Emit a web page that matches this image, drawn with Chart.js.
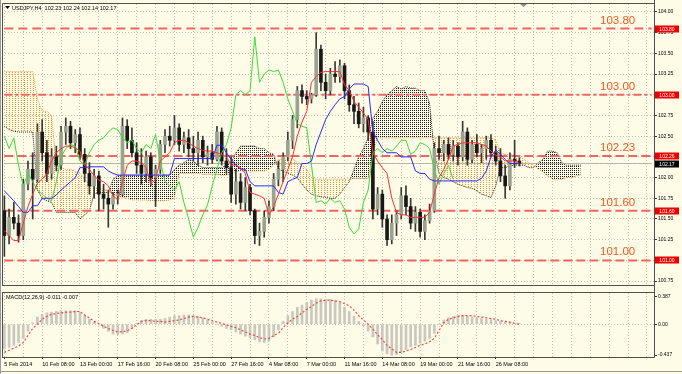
<!DOCTYPE html>
<html>
<head>
<meta charset="utf-8">
<script src="https://cdn.jsdelivr.net/npm/chart.js@4.4.1/dist/chart.umd.min.js"></script>
<style>
  html, body { margin: 0; padding: 0; background: #fefce6; }
  #wrap { position: relative; width: 682px; height: 374px; overflow: hidden; }
  #mainCanvas { position: absolute; left: 0; top: 0; }
  #macdCanvas { position: absolute; left: 0; top: 289px; }
</style>
</head>
<body>
<div id="wrap">
  <canvas id="mainCanvas" width="682" height="289"></canvas>
  <canvas id="macdCanvas" width="682" height="85"></canvas>
</div>
<script>
// USDJPY H4, one category = 2 bars
const cats = Array.from({ length: 138 }, (_, i) => String(i));

const timeLabels = ["5 Feb 2014", "10 Feb 08:00", "13 Feb 00:00", "17 Feb 16:00", "20 Feb 08:00",
	"25 Feb 00:00", "27 Feb 16:00", "4 Mar 08:00", "7 Mar 00:00", "11 Mar 16:00",
	"14 Mar 08:00", "19 Mar 00:00", "21 Mar 16:00", "26 Mar 08:00"];

const priceTicks = [104.00, 103.75, 103.50, 103.25, 103.00, 102.75, 102.50, 102.25, 102.00, 101.75, 101.50, 101.25, 101.00, 100.75];
const macdTicks = [0.387, 0, -0.437];
const macdTickText = ["0.387", "0.00", "-0.437"];

const opens = [
	101.60, 101.30, 101.52, 101.45, 101.30, 101.92, 102.10, 101.98, 102.55, 102.30,
	102.05, 102.25, 102.15, 102.55, 102.62, 102.42, 102.52, 102.28, 102.05, 101.90,
	102.02, 101.80, 101.75, 101.68, 101.78, 101.80, 102.62, 102.45, 102.30, 102.15,
	102.05, 102.25, 102.00, 102.10, 102.40, 102.50, 102.45, 102.60, 102.40, 102.48,
	102.35, 102.30, 102.45, 102.25, 102.30, 102.22, 102.55, 102.20, 102.12, 101.80,
	101.95, 101.70, 101.88, 101.60, 101.30, 101.35, 101.52, 101.65, 101.98, 102.10,
	102.25, 102.45, 102.70, 103.05, 102.98, 102.95, 103.00, 103.55, 103.15, 103.05,
	103.25, 103.22, 103.35, 103.05, 102.88, 102.80, 102.65, 102.72, 102.55, 101.62,
	101.80, 101.50, 101.25, 101.45, 101.55, 101.78, 101.65, 101.45, 101.58, 101.35,
	101.48, 101.60, 102.35, 102.30, 102.40, 102.28, 102.38, 102.25, 102.55, 102.22,
	102.40, 102.30, 102.35, 102.45, 102.30, 102.20, 102.02, 101.90, 102.22, 102.20,
];
const highs = [
	101.78, 101.62, 101.70, 101.55, 101.98, 102.20, 102.30, 102.65, 102.70, 102.45,
	102.35, 102.38, 102.62, 102.72, 102.68, 102.58, 102.60, 102.35, 102.18, 102.10,
	102.08, 101.92, 101.85, 101.82, 101.85, 102.72, 102.70, 102.60, 102.42, 102.35,
	102.32, 102.30, 102.15, 102.45, 102.58, 102.62, 102.75, 102.65, 102.55, 102.58,
	102.50, 102.55, 102.50, 102.38, 102.40, 102.62, 102.60, 102.35, 102.25, 102.10,
	102.05, 102.00, 101.92, 101.62, 101.45, 101.60, 101.72, 102.05, 102.20, 102.30,
	102.55, 102.75, 103.10, 103.12, 103.05, 103.02, 103.75, 103.60, 103.25, 103.32,
	103.40, 103.42, 103.38, 103.12, 102.98, 102.90, 102.85, 102.75, 102.68, 101.88,
	101.85, 101.55, 101.55, 101.60, 101.88, 101.90, 101.75, 101.65, 101.62, 101.55,
	101.68, 102.42, 102.50, 102.45, 102.48, 102.45, 102.42, 102.68, 102.60, 102.45,
	102.52, 102.40, 102.50, 102.52, 102.38, 102.35, 102.15, 102.30, 102.45, 102.24,
];
const lows = [
	101.05, 101.20, 101.38, 101.22, 101.25, 101.85, 101.50, 101.95, 102.20, 101.95,
	101.98, 102.08, 102.10, 102.40, 102.35, 102.30, 102.22, 101.95, 101.80, 101.75,
	101.60, 101.62, 101.40, 101.62, 101.68, 101.78, 102.35, 102.25, 102.05, 101.92,
	101.95, 101.90, 101.65, 102.05, 102.30, 102.38, 102.40, 102.32, 102.30, 102.25,
	102.20, 102.15, 102.18, 102.15, 102.17, 102.20, 102.15, 102.05, 101.70, 101.68,
	101.62, 101.60, 101.55, 101.20, 101.18, 101.28, 101.45, 101.60, 101.90, 101.95,
	102.20, 102.35, 102.60, 102.90, 102.88, 102.90, 102.98, 103.05, 102.95, 103.00,
	103.15, 103.15, 102.95, 102.80, 102.65, 102.60, 102.55, 102.45, 101.50, 101.55,
	101.40, 101.18, 101.20, 101.30, 101.50, 101.55, 101.38, 101.35, 101.28, 101.25,
	101.45, 101.58, 102.22, 102.20, 102.22, 102.20, 102.15, 102.20, 102.15, 102.18,
	102.25, 102.18, 102.22, 102.25, 102.15, 101.95, 101.75, 101.85, 102.12, 102.14,
];
const closes = [
	101.30, 101.52, 101.45, 101.30, 101.92, 102.10, 101.98, 102.55, 102.30, 102.05,
	102.25, 102.15, 102.55, 102.62, 102.42, 102.52, 102.28, 102.05, 101.90, 102.02,
	101.80, 101.75, 101.68, 101.78, 101.80, 102.62, 102.45, 102.30, 102.15, 102.05,
	102.25, 102.00, 102.10, 102.40, 102.50, 102.45, 102.60, 102.40, 102.48, 102.35,
	102.30, 102.45, 102.25, 102.30, 102.22, 102.55, 102.20, 102.12, 101.80, 101.95,
	101.70, 101.88, 101.60, 101.30, 101.35, 101.52, 101.65, 101.98, 102.10, 102.25,
	102.45, 102.70, 103.05, 102.98, 102.95, 103.00, 103.55, 103.15, 103.05, 103.25,
	103.22, 103.35, 103.05, 102.88, 102.80, 102.65, 102.72, 102.55, 101.62, 101.80,
	101.50, 101.25, 101.45, 101.55, 101.78, 101.65, 101.45, 101.58, 101.35, 101.48,
	101.60, 102.35, 102.30, 102.40, 102.28, 102.38, 102.25, 102.55, 102.22, 102.40,
	102.30, 102.35, 102.45, 102.30, 102.20, 102.02, 101.90, 102.22, 102.20, 102.17,
];

const tenkan = [
	101.36, 101.30, 101.24, 101.24, 101.45, 101.65, 101.80, 101.93, 101.98, 102.05,
	102.20, 102.30, 102.35, 102.38, 102.38, 102.36, 102.32, 102.15, 102.10, 102.02,
	101.97, 101.95, 101.90, 101.78, 101.73, 101.95, 102.15, 102.20, 102.20, 102.18,
	102.12, 101.92, 101.98, 102.20, 102.25, 102.30, 102.42, 102.45, 102.45, 102.42,
	102.38, 102.35, 102.33, 102.32, 102.32, 102.30, 102.28, 102.25, 102.15, 102.15,
	102.12, 102.05, 101.82, 101.80, 101.78, 101.75, 101.55, 101.65, 101.80, 101.95,
	102.10, 102.25, 102.50, 102.67, 102.80, 103.15, 103.22, 103.27, 103.28, 103.28,
	103.28, 103.28, 103.12, 103.05, 102.92, 102.85, 102.78, 102.70, 102.30, 102.20,
	102.12, 102.05, 101.75, 101.58, 101.55, 101.55, 101.52, 101.52, 101.52, 101.52,
	101.58, 101.80, 102.00, 102.10, 102.22, 102.38, 102.40, 102.42, 102.42, 102.42,
	102.42, 102.40, 102.38, 102.32, 102.27, 102.25, 102.20, 102.20, 102.20, 102.18,
];
const kijun = [
	101.84, 101.78, 101.72, 101.65, 101.58, 101.58, 101.66, 101.66, 101.75, 101.75,
	101.75, 101.79, 101.85, 101.90, 101.95, 102.00, 102.12, 102.12, 102.13, 102.13,
	102.13, 102.13, 102.08, 102.05, 102.03, 102.03, 102.03, 102.03, 102.03, 102.03,
	102.03, 102.03, 102.03, 102.03, 102.03, 102.03, 102.23, 102.23, 102.23, 102.23,
	102.23, 102.23, 102.23, 102.23, 102.23, 102.39, 102.39, 102.30, 102.22, 102.15,
	102.10, 102.10, 101.95, 101.90, 101.90, 101.90, 101.90, 101.90, 101.82, 101.80,
	101.95, 101.98, 102.00, 102.17, 102.17, 102.20, 102.40, 102.55, 102.70, 102.80,
	102.88, 102.95, 102.98, 103.07, 103.13, 103.13, 103.13, 103.10, 102.55, 102.45,
	102.35, 102.30, 102.30, 102.30, 102.25, 102.25, 102.25, 102.08, 102.05, 102.05,
	101.98, 101.96, 101.96, 101.96, 101.96, 101.96, 101.96, 101.96, 101.96, 101.96,
	101.96, 101.99, 102.08, 102.25, 102.33, 102.28, 102.22, 102.17, 102.17, 102.17,
];
const chikou = [
	102.50, 102.35, 102.48, 102.15, 101.90, 102.05, 101.95, 101.85, 101.80, 101.75,
	101.72, 101.95, 102.25, 102.35, 102.40, 102.38, 102.20, 102.15, 102.30, 102.40,
	102.45, 102.48, 102.55, 102.60, 102.58, 102.48, 102.42, 102.45, 102.35, 102.30,
	102.40, 102.35, 102.52, 102.20, 101.95, 101.90, 101.85, 101.95, 101.70, 101.50,
	101.28, 101.40, 101.55, 101.67, 101.90, 102.10, 102.30, 102.40, 102.60, 103.00,
	103.05, 103.00, 103.05, 103.70, 103.15, 103.25, 103.30, 103.28, 103.30, 103.15,
	102.95, 102.80, 102.65, 102.62, 102.60, 102.15, 101.70, 101.72, 101.68, 101.75,
	101.70, 101.72, 101.62, 101.40, 101.32, 101.38, 101.70, 101.85, 102.30, 102.35,
	102.30, 102.35, 102.32, 102.38, 102.45, 102.45, 102.28, 102.32, 102.42, 102.40,
	102.35, 102.10, 101.92, 102.05, 102.15, 101.98,
];
const spanA = [
	103.28, 103.28, 103.28, 103.28, 103.28, 103.28, 103.28, 102.95, 102.80, 102.80,
	102.75, 102.15, 102.12, 102.10, 102.10, 102.08, 102.05, 101.98, 101.92, 101.88,
	101.87, 101.86, 101.84, 101.80, 101.78, 101.76, 101.75, 101.73, 101.73, 101.73,
	101.73, 101.72, 101.72, 101.72, 101.72, 101.73, 101.75, 102.05, 102.05, 102.05,
	102.05, 102.05, 102.04, 102.04, 102.04, 102.04, 102.03, 102.03, 102.05, 102.07,
	102.08, 102.08, 102.08, 102.08, 102.08, 102.08, 102.10, 102.15, 102.22, 102.22,
	102.23, 102.23, 102.18, 102.15, 102.10, 102.00, 101.98, 101.98, 101.98, 101.98,
	101.98, 101.98, 101.98, 101.98, 101.99, 101.99, 101.99, 101.99, 102.30, 102.48,
	102.48, 102.48, 102.48, 102.48, 102.48, 102.48, 102.48, 102.48, 102.48, 102.48,
	102.48, 102.48, 102.48, 102.48, 102.48, 102.48, 102.48, 102.48, 102.48, 102.48,
	102.48, 102.48, 102.48, 102.48, 102.45, 102.30, 102.28, 102.28, 102.27, 102.25,
	102.22, 102.18, 102.15, 102.10, 102.07, 102.02, 101.98, 101.97, 101.98, 102.00,
	102.00, 102.02, 102.03,
];
const spanB = [
	102.62, 102.58, 102.56, 102.55, 102.55, 102.55, 102.55, 101.85, 101.75, 101.72,
	101.70, 101.58, 101.58, 101.58, 101.58, 101.58, 101.50, 101.55, 101.60, 101.80,
	101.82, 101.82, 101.82, 101.98, 102.02, 102.03, 102.03, 102.03, 102.03, 102.03,
	102.03, 102.03, 102.03, 102.03, 102.03, 102.03, 102.10, 102.15, 102.18, 102.22,
	102.20, 102.15, 102.12, 102.12, 102.12, 102.12, 102.12, 102.15, 102.18, 102.30,
	102.38, 102.38, 102.38, 102.38, 102.35, 102.35, 102.30, 102.28, 102.10, 102.08,
	102.05, 102.03, 102.00, 101.92, 101.85, 101.80, 101.78, 101.77, 101.76, 101.75,
	101.75, 101.80, 101.88, 101.95, 102.10, 102.25, 102.35, 102.48, 102.72, 102.80,
	102.92, 103.00, 103.05, 103.10, 103.07, 103.10, 103.08, 103.08, 103.05, 103.05,
	102.90, 102.30, 102.05, 102.00, 101.98, 101.95, 101.92, 101.90, 101.88, 101.87,
	101.84, 101.80, 101.78, 101.76, 101.90, 102.12, 102.12, 102.14, 102.15, 102.15,
	102.15, 102.12, 102.12, 102.18, 102.22, 102.32, 102.32, 102.30, 102.18, 102.15,
	102.15, 102.15, 102.15,
];

const levelValues = [103.80, 103.00, 102.26, 101.60, 101.00];
const levelTexts = ["103.80", "103.00", "102.23", "101.60", "101.00"];
const levelBoxTexts = ["103.80", "103.00", "102.26", "101.60", "101.00"];
const bidPrice = 102.17;

const macdMain = [
	-0.35, -0.33, -0.30, -0.26, -0.20, -0.10, 0.02, 0.10, 0.14, 0.16,
	0.17, 0.18, 0.19, 0.19, 0.19, 0.19, 0.17, 0.12, 0.07, 0.03,
	-0.01, -0.06, -0.10, -0.14, -0.15, -0.14, -0.12, -0.06, 0.01, 0.05,
	0.07, 0.07, 0.07, 0.07, 0.08, 0.10, 0.12, 0.12, 0.13, 0.13,
	0.12, 0.11, 0.09, 0.06, 0.03, 0.00, -0.03, -0.06, -0.08, -0.11,
	-0.14, -0.17, -0.19, -0.22, -0.25, -0.26, -0.24, -0.18, -0.08, 0.04,
	0.12, 0.18, 0.24, 0.27, 0.31, 0.34, 0.36, 0.36, 0.35, 0.35,
	0.34, 0.31, 0.24, 0.18, 0.11, 0.04, -0.02, -0.10, -0.18, -0.28,
	-0.38, -0.42, -0.44, -0.43, -0.40, -0.36, -0.32, -0.30, -0.27, -0.24,
	-0.20, -0.13, 0.00, 0.06, 0.09, 0.11, 0.12, 0.12, 0.11, 0.10,
	0.09, 0.08, 0.07, 0.06, 0.05, 0.04, 0.03, 0.02, 0.01, 0.01,
];
const macdSignal = [
	-0.40, -0.37, -0.34, -0.31, -0.26, -0.16, -0.06, 0.00, 0.07, 0.11,
	0.14, 0.15, 0.16, 0.17, 0.17, 0.18, 0.18, 0.13, 0.09, 0.04,
	0.01, -0.03, -0.06, -0.09, -0.11, -0.11, -0.09, -0.06, -0.01, 0.04,
	0.05, 0.05, 0.04, 0.04, 0.03, 0.04, 0.05, 0.06, 0.08, 0.10,
	0.11, 0.10, 0.09, 0.07, 0.05, 0.03, 0.01, -0.01, -0.03, -0.05,
	-0.08, -0.11, -0.14, -0.16, -0.19, -0.21, -0.20, -0.16, -0.13, -0.05,
	0.02, 0.07, 0.11, 0.16, 0.21, 0.25, 0.30, 0.33, 0.34, 0.34,
	0.33, 0.32, 0.29, 0.26, 0.20, 0.12, 0.06, 0.00, -0.07, -0.15,
	-0.22, -0.30, -0.35, -0.40, -0.40, -0.38, -0.36, -0.33, -0.30, -0.28,
	-0.25, -0.20, -0.09, 0.02, 0.07, 0.09, 0.11, 0.12, 0.12, 0.12,
	0.11, 0.10, 0.09, 0.08, 0.07, 0.05, 0.04, 0.03, 0.01, 0.00,
];

const paper = "#fefce6";
const gridColor = "#c2c2b8";
const frameColor = "#505050";
const smallFont = '"Liberation Sans", Arial, sans-serif';
Chart.defaults.font.family = smallFont;

// dotted hatch like the MT4 cloud histogram
function dots(color, w, h) {
	const c = document.createElement("canvas");
	c.width = w;
	c.height = h;
	const g = c.getContext("2d");
	g.fillStyle = color;
	g.fillRect(0, 0, 1, 1);
	return g.createPattern(c, "repeat");
}
const orangeDots = dots("#f39424", 3, 2);
const blackDots = dots("#1c1c1c", 2, 2);

function lineSet(label, data, color, order, extra) {
	return Object.assign({
		type: "line",
		label: label,
		data: data,
		borderColor: color,
		borderWidth: 1,
		pointRadius: 0,
		tension: 0,
		fill: false,
		order: order,
	}, extra || {});
}

const mainDecor = {
	id: "mainDecor",
	beforeDraw(chart) {
		const c = chart.ctx;
		c.save();
		c.fillStyle = paper;
		c.fillRect(0, 0, chart.width, chart.height);
		c.restore();
	},
	afterDraw(chart) {
		const c = chart.ctx;
		const a = chart.chartArea;
		const y = chart.scales.y;
		c.save();
		// frame
		c.strokeStyle = frameColor;
		c.lineWidth = 1;
		c.beginPath();
		c.moveTo(a.left + 0.5, a.top - 0.5);
		c.lineTo(a.right + 0.5, a.top - 0.5);
		c.moveTo(a.left + 0.5, a.top - 0.5);
		c.lineTo(a.left + 0.5, a.bottom + 0.5);
		c.moveTo(a.left, a.bottom + 0.5);
		c.lineTo(a.right + 0.5, a.bottom + 0.5);
		c.moveTo(a.right + 0.5, 0);
		c.lineTo(a.right + 0.5, chart.height);
		c.stroke();
		c.strokeStyle = "#9a9a9a";
		c.beginPath();
		c.moveTo(0.5, 0);
		c.lineTo(0.5, chart.height);
		c.stroke();

		// level captions
		c.font = "11.5px " + smallFont;
		c.fillStyle = "#f25a22";
		c.textAlign = "left";
		c.textBaseline = "alphabetic";
		levelValues.forEach((v, k) => {
			c.fillText(levelTexts[k], 600, y.getPixelForValue(v) - 5);
		});

		// price boxes on the axis
		c.font = "5px " + smallFont;
		c.textBaseline = "middle";
		c.textAlign = "center";
		const box = (v, txt, bg) => {
			const py = Math.round(y.getPixelForValue(v));
			c.fillStyle = bg;
			c.fillRect(a.right + 1, py - 3.5, 24, 7);
			c.fillStyle = "#ffffff";
			c.fillText(txt, a.right + 13, py + 0.5);
		};
		levelValues.forEach((v, k) => box(v, levelBoxTexts[k], "#ee0000"));
		box(bidPrice, bidPrice.toFixed(2), "#000000");

		// title
		c.fillStyle = "#000";
		c.beginPath();
		c.moveTo(5, 6);
		c.lineTo(10, 6);
		c.lineTo(7.5, 9);
		c.closePath();
		c.fill();
		c.font = "5.5px " + smallFont;
		c.textAlign = "left";
		c.fillText("USDJPY,H4  102.23 102.24 102.14 102.17", 12, 8);

		// chart shift marker
		c.fillStyle = "#8c8c8c";
		c.beginPath();
		c.moveTo(520, 4);
		c.lineTo(527, 4);
		c.lineTo(523.5, 7);
		c.closePath();
		c.fill();
		c.restore();
	},
};

const macdDecor = {
	id: "macdDecor",
	beforeDraw(chart) {
		const c = chart.ctx;
		c.save();
		c.fillStyle = paper;
		c.fillRect(0, 0, chart.width, chart.height);
		c.restore();
	},
	afterDraw(chart) {
		const c = chart.ctx;
		const a = chart.chartArea;
		c.save();
		c.strokeStyle = frameColor;
		c.lineWidth = 1;
		c.beginPath();
		c.moveTo(a.left, a.top - 0.5);
		c.lineTo(a.right + 0.5, a.top - 0.5);
		c.moveTo(a.left + 0.5, a.top - 0.5);
		c.lineTo(a.left + 0.5, a.bottom + 0.5);
		c.moveTo(a.left, a.bottom + 0.5);
		c.lineTo(a.right + 0.5, a.bottom + 0.5);
		c.moveTo(a.right + 0.5, 0);
		c.lineTo(a.right + 0.5, a.bottom + 0.5);
		c.stroke();
		c.strokeStyle = "#9a9a9a";
		c.beginPath();
		c.moveTo(0.5, 0);
		c.lineTo(0.5, chart.height);
		c.moveTo(0, 82.5);
		c.lineTo(chart.width, 82.5);
		c.stroke();
		c.fillStyle = "#000";
		c.font = "5.5px " + smallFont;
		c.textAlign = "left";
		c.textBaseline = "middle";
		c.fillText("MACD(12,26,9) -0.011 -0.007", 6, 8);
		c.restore();
	},
};

const noUi = {
	legend: { display: false },
	tooltip: { enabled: false },
};

new Chart(document.getElementById("mainCanvas"), {
	type: "bar",
	data: {
		labels: cats,
		datasets: [
			lineSet("Senkou Span A", spanA, "#f0a040", 10, {
				borderDash: [1, 1],
				fill: { target: 1, above: orangeDots, below: blackDots },
			}),
			lineSet("Senkou Span B", spanB, "#2a2a2a", 9, { borderDash: [1, 1] }),
			lineSet("103.80", cats.map(() => levelValues[0]), "#f06464", 8, { borderWidth: 2, borderDash: [9, 5] }),
			lineSet("103.00", cats.map(() => levelValues[1]), "#f06464", 8, { borderWidth: 2, borderDash: [8, 3, 3, 3] }),
			lineSet("102.26", cats.map(() => levelValues[2]), "#f06464", 8, { borderWidth: 2, borderDash: [9, 4] }),
			lineSet("101.60", cats.map(() => levelValues[3]), "#f06464", 8, { borderWidth: 2, borderDash: [9, 4] }),
			lineSet("101.00", cats.map(() => levelValues[4]), "#f06464", 8, { borderWidth: 2, borderDash: [9, 4] }),
			lineSet("Bid", cats.map(() => bidPrice), "#b4b4ac", 8),
			{
				label: "Wick",
				data: lows.map((l, i) => [l, highs[i]]),
				backgroundColor: "#383838",
				barThickness: 1,
				grouped: false,
				order: 5,
			},
			{
				label: "Body",
				data: opens.map((o, i) => [o, closes[i]]),
				backgroundColor: opens.map((o, i) => (closes[i] >= o ? "#9aa390" : "#181818")),
				barThickness: 3,
				minBarLength: 1,
				grouped: false,
				order: 4,
			},
			lineSet("Chikou Span", chikou, "#38dd38", 3),
			lineSet("Kijun-sen", kijun, "#2a2aff", 2),
			lineSet("Tenkan-sen", tenkan, "#ff3030", 1),
		],
	},
	options: {
		responsive: false,
		animation: false,
		events: [],
		layout: { padding: { left: 2, top: 4, right: 0, bottom: 1 } },
		plugins: noUi,
		scales: {
			x: {
				offset: true,
				grid: {
					offset: false,
					drawTicks: false,
					color: (ctx) => (ctx.index % 4 === 0 ? gridColor : "transparent"),
				},
				border: { display: false, dash: [1, 2] },
				ticks: { display: false, autoSkip: false },
				afterFit: (s) => { s.height = 0; },
			},
			y: {
				position: "right",
				min: 100.703,
				max: 104.096,
				afterBuildTicks: (s) => { s.ticks = priceTicks.map((v) => ({ value: v })); },
				afterFit: (s) => { s.width = 28; },
				grid: { color: gridColor, tickColor: "#333", tickLength: 3 },
				border: { display: false, dash: [1, 2] },
				ticks: {
					padding: 1,
					color: "#000",
					font: { size: 5 },
					callback: (v) => v.toFixed(2),
				},
			},
		},
	},
	plugins: [mainDecor],
});

new Chart(document.getElementById("macdCanvas"), {
	type: "bar",
	data: {
		labels: cats,
		datasets: [
			lineSet("Signal", macdSignal, "#f04848", 1, { borderWidth: 1.2, borderDash: [2, 2] }),
			{
				label: "MACD",
				data: macdMain,
				backgroundColor: "#c8c8c0",
				barThickness: 2,
				order: 2,
			},
		],
	},
	options: {
		responsive: false,
		animation: false,
		events: [],
		layout: { padding: { left: 2, top: 2, right: 0, bottom: 0 } },
		plugins: noUi,
		scales: {
			x: {
				offset: true,
				grid: {
					offset: false,
					tickLength: 2,
					color: (ctx) => (ctx.index % 4 === 0 ? gridColor : "transparent"),
					tickColor: (ctx) => (ctx.index % 8 === 0 && ctx.index <= 104 ? "#333" : "transparent"),
				},
				border: { display: false, dash: [1, 2] },
				ticks: {
					autoSkip: false,
					maxRotation: 0,
					minRotation: 0,
					align: "start",
					padding: 2,
					color: "#000",
					font: { size: 5.5 },
					callback: (v, i) => (i % 8 === 0 && timeLabels[i / 8] ? timeLabels[i / 8] : ""),
				},
				afterFit: (s) => { s.height = 17; },
			},
			y: {
				position: "right",
				min: -0.465,
				max: 0.442,
				afterBuildTicks: (s) => { s.ticks = macdTicks.map((v) => ({ value: v })); },
				afterFit: (s) => { s.width = 28; },
				grid: {
					color: (ctx) => (ctx.tick && ctx.tick.value === 0 ? gridColor : "transparent"),
					tickColor: "#333",
					tickLength: 3,
				},
				border: { display: false, dash: [1, 2] },
				ticks: {
					padding: 1,
					color: "#000",
					font: { size: 5 },
					callback: (v, i) => macdTickText[i],
				},
			},
		},
	},
	plugins: [macdDecor],
});
</script>
</body>
</html>
